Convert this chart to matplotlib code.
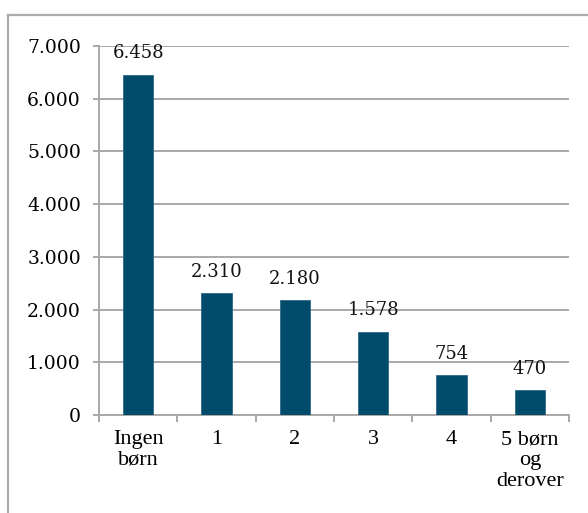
import numpy as np
import matplotlib
matplotlib.use("Agg")
import matplotlib.pyplot as plt
from matplotlib.lines import Line2D

categories = ["Ingen\nbørn", "1", "2", "3", "4", "5 børn\nog\nderover"]
values = [6458, 2310, 2180, 1578, 754, 470]
yticks = [0, 1000, 2000, 3000, 4000, 5000, 6000, 7000]


def fmt(v):
    return f"{v:,}".replace(",", ".")


num_font = ['DejaVu Serif']
lab_font = ['Liberation Serif', 'DejaVu Serif']

fig = plt.figure(figsize=(5.88, 5.13), dpi=100)
ax = fig.add_axes([99/588, 1 - 415/513, 470/588, 369/513])

grey = "#A9A9A9"
x = np.arange(len(values))
ax.bar(x, values, width=0.39, color="#024C6B", edgecolor="#2E6A86", linewidth=0.6, zorder=3)

for xi, v in zip(x, values):
    ax.annotate(fmt(v), (xi, v), xytext=(0, 9), textcoords="offset points",
                ha="center", va="bottom", fontsize=13, family=num_font, color="#111111")

ax.set_xlim(-0.5, len(values) - 0.5)
ax.set_ylim(0, 7000)
ax.set_yticks(yticks)
ax.set_yticklabels([fmt(t) for t in yticks], fontsize=13.5, family=num_font)
ax.yaxis.grid(True, color=grey, linewidth=1.4, zorder=0)

# category labels between boundary ticks
ax.set_xticks(np.arange(len(values) + 1) - 0.5)
ax.set_xticklabels([])
ax.set_xticks(x, minor=True)
ax.set_xticklabels(categories, minor=True, fontsize=16, family=lab_font,
                   linespacing=1.12, va="top")
ax.tick_params(axis="x", which="minor", length=0, pad=11)
ax.tick_params(axis="x", which="major", length=5, width=1.4, color=grey)
ax.tick_params(axis="y", length=4, width=1.4, color=grey, pad=9)

for s in ["top", "right"]:
    ax.spines[s].set_visible(False)
for s in ["left", "bottom"]:
    ax.spines[s].set_color(grey)
    ax.spines[s].set_linewidth(1.4)

# outer frame (left and top edges)
fig.add_artist(Line2D([7.5/588, 7.5/588], [0, 1 - 15/513], color="#ABABAB", lw=1.6,
                      transform=fig.transFigure))
fig.add_artist(Line2D([7.5/588, 1], [1 - 15/513, 1 - 15/513], color="#ABABAB", lw=1.6,
                      transform=fig.transFigure))

fig.savefig("out.png", dpi=100)
